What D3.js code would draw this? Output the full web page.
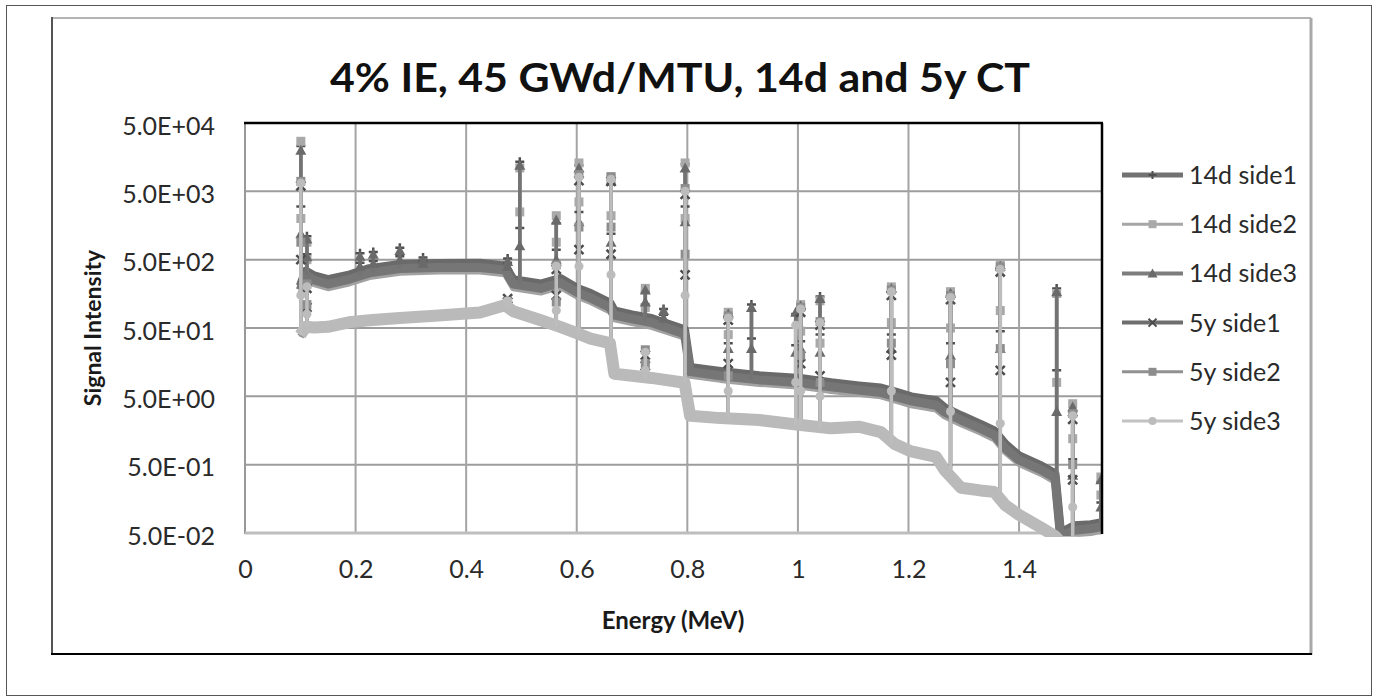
<!DOCTYPE html>
<html>
<head>
<meta charset="utf-8">
<script src="https://cdn.jsdelivr.net/npm/d3@7"></script>
<style>
  body { margin: 0; background: #fff; }
  svg { display: block; font-family: Lato, "Open Sans", "Liberation Sans", sans-serif; }
</style>
</head>
<body>
<svg id="chart" width="1377" height="698"></svg>
<script>
// ---- data ---------------------------------------------------------------
// Energy grid (MeV) shared by the continuum of every series
const energyMeV = [0.100, 0.110, 0.125, 0.150, 0.190, 0.225, 0.280, 0.350, 0.425, 0.470,
  0.485, 0.535, 0.570, 0.600, 0.625, 0.660, 0.668, 0.700, 0.735, 0.795,
  0.805, 0.860, 0.930, 1.005, 1.060, 1.110, 1.150, 1.175, 1.205, 1.250,
  1.265, 1.295, 1.330, 1.355, 1.375, 1.400, 1.440, 1.465, 1.475, 1.500,
  1.530, 1.550];

// Continuum signal intensity for each series
const d14Side1 = [205, 340, 290, 255, 300, 370, 425, 440, 445, 405, 255, 220, 265, 192, 160, 116, 89, 78, 69, 47,
  13.2, 11.6, 10.0, 9.1, 7.9, 7.1, 6.6, 5.8, 4.9, 4.3, 3.4, 2.6, 1.95, 1.56, 1.0, 0.67, 0.48, 0.37, 0.05, 0.064,
  0.066, 0.071];
const d14Side2 = [157, 260, 219, 191, 226, 278, 322, 335, 335, 307, 191, 165, 200, 145, 120, 87, 67, 59, 52, 36,
  10.0, 8.7, 7.6, 6.9, 6.0, 5.4, 5.0, 4.35, 3.7, 3.2, 2.55, 1.95, 1.48, 1.18, 0.76, 0.51, 0.365, 0.28, 0.038, 0.048,
  0.05, 0.054];
const d14Side3 = [180, 298, 252, 220, 260, 320, 370, 385, 385, 353, 220, 190, 230, 167, 138, 100, 77, 68, 60, 41,
  11.5, 10, 8.7, 7.9, 6.9, 6.2, 5.7, 5.0, 4.3, 3.7, 2.95, 2.25, 1.7, 1.36, 0.87, 0.585, 0.42, 0.32, 0.044, 0.055,
  0.058, 0.062];
const y5Side1 = [42, 55, 54, 55, 65, 69, 74, 81, 89, 114, 93, 69, 55, 44.5, 37, 32, 11.3, 10.6, 9.9, 8.4,
  2.75, 2.55, 2.4, 2.0, 1.8, 1.9, 1.6, 1.06, 0.83, 0.69, 0.45, 0.245, 0.22, 0.212, 0.136, 0.098, 0.064, 0.048, 0.039, 0.039,
  0.036, 0.036];
const y5Side2 = [37.5, 49.5, 48.5, 49.5, 58, 62, 66.5, 72, 80, 103, 84, 62, 49.5, 40, 33, 28.5, 10.2, 9.5, 8.8, 7.5,
  2.45, 2.3, 2.15, 1.8, 1.6, 1.7, 1.42, 0.95, 0.74, 0.62, 0.4, 0.22, 0.2, 0.19, 0.122, 0.087, 0.057, 0.043, 0.035, 0.035,
  0.032, 0.032];
const y5Side3 = [39.5, 52, 51, 52, 61, 65, 70, 76, 84, 108, 88, 65, 52, 42, 35, 30, 10.7, 10, 9.3, 7.9,
  2.6, 2.4, 2.25, 1.9, 1.7, 1.8, 1.5, 1.0, 0.78, 0.65, 0.42, 0.23, 0.21, 0.2, 0.128, 0.092, 0.06, 0.045, 0.037, 0.037,
  0.034, 0.034];

// Gamma lines: [energy MeV, intensity at line foot, on the rising edge, at line top]
const p14Side1 = [[0.101, 205, 3000, 23000], [0.112, 340, 600, 1100], [0.208, 330, 450, 620], [0.232, 370, 480, 650],
  [0.280, 425, 560, 750], [0.322, 440, 480, 540], [0.475, 390, 450, 520], [0.497, 255, 1450, 13500],
  [0.563, 255, 700, 1700], [0.604, 192, 2500, 12000], [0.662, 116, 1200, 6500], [0.724, 71, 110, 170],
  [0.757, 63, 78, 95], [0.796, 47, 3000, 12500], [0.874, 11.6, 30, 75], [0.916, 10.5, 35, 110],
  [0.996, 9.2, 28, 80], [1.005, 9.1, 32, 100], [1.040, 8.3, 40, 145], [1.169, 6.0, 40, 175],
  [1.276, 3.8, 30, 150], [1.366, 1.6, 45, 380], [1.468, 0.37, 12, 190], [1.497, 0.064, 0.6, 3.0],
  [1.548, 0.071, 0.14, 0.28]];
const p14Side2 = [[0.101, 157, 2000, 27000], [0.112, 260, 500, 900], [0.497, 191, 2500, 11000], [0.563, 191, 900, 2200],
  [0.604, 145, 3500, 13000], [0.662, 87, 2200, 8000], [0.724, 54, 100, 190], [0.796, 36, 2000, 13000],
  [0.874, 8.7, 40, 85], [1.005, 6.9, 45, 110], [1.040, 6.2, 30, 125], [1.169, 4.5, 60, 200],
  [1.276, 2.9, 50, 170], [1.366, 1.2, 90, 430], [1.468, 0.28, 8, 160], [1.497, 0.048, 1.2, 3.9],
  [1.548, 0.054, 0.18, 0.33]];
const p14Side3 = [[0.101, 180, 1200, 20000], [0.112, 298, 550, 1000], [0.208, 290, 400, 560], [0.232, 320, 440, 600],
  [0.280, 370, 500, 680], [0.322, 380, 440, 500], [0.475, 340, 400, 470], [0.497, 220, 800, 12000],
  [0.563, 220, 500, 1900], [0.604, 167, 1800, 11000], [0.662, 100, 900, 7000], [0.724, 62, 120, 180],
  [0.757, 55, 70, 90], [0.796, 41, 1800, 11000], [0.874, 10, 25, 80], [0.916, 9, 25, 100],
  [0.996, 8, 22, 85], [1.005, 7.9, 25, 105], [1.040, 7.2, 22, 135], [1.169, 5.2, 25, 190],
  [1.276, 3.3, 20, 160], [1.366, 1.4, 25, 400], [1.468, 0.32, 3, 170], [1.497, 0.055, 0.35, 3.5],
  [1.548, 0.062, 0.12, 0.3]];
const p5Side1 = [[0.101, 42, 500, 6000], [0.112, 55, 100, 190], [0.475, 110, 120, 135], [0.563, 55, 150, 360],
  [0.604, 44.5, 700, 7200], [0.662, 32, 600, 7000], [0.724, 9.9, 14, 20], [0.796, 8.4, 300, 4500],
  [0.874, 2.55, 15, 65], [1.005, 2.0, 15, 85], [1.040, 1.8, 10, 55], [1.169, 1.06, 20, 150],
  [1.276, 0.45, 8, 130], [1.366, 0.21, 12, 330], [1.497, 0.039, 0.3, 2.3]];
const p5Side2 = [[0.101, 37.5, 900, 7000], [0.112, 49.5, 110, 220], [0.475, 95, 105, 120], [0.563, 49.5, 120, 420],
  [0.604, 40, 1500, 8800], [0.662, 28.5, 1500, 8200], [0.724, 8.8, 15, 24], [0.796, 7.5, 600, 5500],
  [0.874, 2.3, 10, 75], [1.005, 1.8, 20, 100], [1.040, 1.6, 8, 62], [1.169, 0.95, 30, 180],
  [1.276, 0.4, 15, 150], [1.366, 0.19, 25, 390], [1.497, 0.035, 0.5, 2.8]];
const p5Side3 = [[0.101, 39.5, 150, 6600], [0.112, 52, 80, 200], [0.475, 100, 110, 125], [0.563, 52, 90, 400],
  [0.604, 42, 400, 8000], [0.662, 30, 300, 7500], [0.724, 9.3, 12, 22], [0.796, 7.9, 150, 5000],
  [0.874, 2.4, 6, 70], [0.996, 1.9, 8, 55], [1.005, 1.9, 6, 95], [1.040, 1.7, 5, 60],
  [1.169, 1.0, 6, 170], [1.276, 0.42, 3, 140], [1.366, 0.2, 2, 360], [1.497, 0.037, 0.12, 2.6]];

const seriesNames = ["14d side1", "14d side2", "14d side3", "5y side1", "5y side2", "5y side3"];

const xTicks = [0, 0.2, 0.4, 0.6, 0.8, 1, 1.2, 1.4];
const xTickLabels = ["0", "0.2", "0.4", "0.6", "0.8", "1", "1.2", "1.4"];
const yTicks = [5e4, 5e3, 5e2, 5e1, 5, 0.5, 0.05];
const yTickLabels = ["5.0E+04", "5.0E+03", "5.0E+02", "5.0E+01", "5.0E+00", "5.0E-01", "5.0E-02"];

// ---- styles -------------------------------------------------------------
const styles = [
  { line: "#6a6a6a", width: 9, spike: "#666", marker: "plus",   mfill: "#4f4f4f" },
  { line: "#a2a2a2", width: 6, spike: "#a0a0a0", marker: "square", mfill: "#a9a9a9" },
  { line: "#767676", width: 9, spike: "#737373", marker: "tri",    mfill: "#6a6a6a" },
  { line: "#6f6f6f", width: 7, spike: "#6a6a6a", marker: "x",      mfill: "#4c4c4c" },
  { line: "#8e8e8e", width: 7, spike: "#8c8c8c", marker: "square", mfill: "#8d8d8d" },
  { line: "#bababa", width: 12, spike: "#bdbdbd", marker: "circle", mfill: "#bcbcbc" }
];
const continuum = [d14Side1, d14Side2, d14Side3, y5Side1, y5Side2, y5Side3];
const lines = [p14Side1, p14Side2, p14Side3, p5Side1, p5Side2, p5Side3];

// ---- layout -------------------------------------------------------------
const svg = d3.select("#chart");
const plot = { left: 245, right: 1102, top: 123, bottom: 533 };

const x = d3.scaleLinear().domain([0, 1.55]).range([plot.left, plot.right]);
const y = d3.scaleLog().domain([0.05, 50000]).range([plot.bottom, plot.top]);

// outer frame and chart-area box
svg.append("rect").attr("x", 6.5).attr("y", 5.5).attr("width", 1365).attr("height", 690)
  .attr("fill", "none").attr("stroke", "#555").attr("stroke-width", 1);
svg.append("line").attr("x1", 52).attr("x2", 1311).attr("y1", 18).attr("y2", 18)
  .attr("stroke", "#b4b4b4").attr("stroke-width", 2);
svg.append("line").attr("x1", 1311).attr("x2", 1311).attr("y1", 18).attr("y2", 655)
  .attr("stroke", "#a8a8a8").attr("stroke-width", 3);
svg.append("line").attr("x1", 52).attr("x2", 52).attr("y1", 17).attr("y2", 655)
  .attr("stroke", "#555").attr("stroke-width", 2);
svg.append("line").attr("x1", 51).attr("x2", 1312).attr("y1", 654).attr("y2", 654)
  .attr("stroke", "#000").attr("stroke-width", 2);

// title
svg.append("text").attr("x", 330).attr("y", 92)
  .attr("textLength", 700).attr("lengthAdjust", "spacingAndGlyphs")
  .attr("font-size", 40).attr("font-weight", 700).attr("fill", "#111")
  .text("4% IE, 45 GWd/MTU, 14d and 5y CT");

// gridlines
const grid = svg.append("g");
grid.selectAll("line.h").data(yTicks).join("line")
  .attr("x1", plot.left).attr("x2", plot.right)
  .attr("y1", d => y(d)).attr("y2", d => y(d))
  .attr("stroke", "#9c9c9c").attr("stroke-width", 2);
grid.selectAll("line.v").data(xTicks).join("line")
  .attr("y1", plot.top).attr("y2", plot.bottom)
  .attr("x1", d => x(d)).attr("x2", d => x(d))
  .attr("stroke", "#a4a4a4").attr("stroke-width", 2);

// axes (labels only, lines come from the grid/frame)
const yAxis = d3.axisLeft(y).tickValues(yTicks)
  .tickFormat((d, i) => yTickLabels[i]).tickSize(0).tickPadding(30);
const yg = svg.append("g").attr("transform", `translate(${plot.left},0)`).call(yAxis);
yg.select(".domain").remove();
yg.selectAll("text").attr("font-size", 25).attr("fill", "#2a2a2a")
  .attr("font-family", "Lato, sans-serif").attr("dy", "0.45em");

const xAxis = d3.axisBottom(x).tickValues(xTicks)
  .tickFormat((d, i) => xTickLabels[i]).tickSize(0).tickPadding(27);
const xg = svg.append("g").attr("transform", `translate(0,${plot.bottom})`).call(xAxis);
xg.select(".domain").remove();
xg.selectAll("text").attr("font-size", 25).attr("fill", "#2a2a2a")
  .attr("font-family", "Lato, sans-serif");

// plot frame: grey left/bottom, black top/right
svg.append("line").attr("x1", plot.left).attr("x2", plot.left).attr("y1", plot.top).attr("y2", plot.bottom + 1)
  .attr("stroke", "#999").attr("stroke-width", 2);
svg.append("line").attr("x1", plot.left).attr("x2", plot.right).attr("y1", plot.bottom).attr("y2", plot.bottom)
  .attr("stroke", "#bdbdbd").attr("stroke-width", 3);

// axis titles
svg.append("text").attr("x", 673).attr("y", 629).attr("text-anchor", "middle")
  .attr("font-size", 24).attr("font-weight", 700).attr("fill", "#1a1a1a").text("Energy (MeV)");
svg.append("text").attr("transform", "translate(101,328) rotate(-90)").attr("text-anchor", "middle")
  .attr("font-size", 23).attr("font-weight", 700).attr("fill", "#1a1a1a").text("Signal Intensity");

// ---- series -------------------------------------------------------------
svg.append("clipPath").attr("id", "plotClip").append("rect")
  .attr("x", plot.left).attr("y", plot.top - 2)
  .attr("width", plot.right - plot.left).attr("height", plot.bottom - plot.top + 6);

const markerPath = (type, size) => {
  const h = size / 2;
  switch (type) {
    case "square": return `M${-h},${-h}h${size}v${size}h${-size}Z`;
    case "tri": return `M0,${-h - 1}L${h + 1},${h}L${-h - 1},${h}Z`;
    case "circle": return d3.symbol(d3.symbolCircle, size * size * 0.8)();
    case "plus": return `M${-h},0H${h}M0,${-h}V${h}`;
    case "x": return `M${-h},${-h}L${h},${h}M${h},${-h}L${-h},${h}`;
  }
};
const isStroke = t => t === "plus" || t === "x";

const line = d3.line().x(d => x(d[0])).y(d => y(d[1]));
const plotG = svg.append("g").attr("clip-path", "url(#plotClip)");

continuum.forEach((vals, i) => {
  const st = styles[i];
  const g = plotG.append("g");
  const pts = energyMeV.map((e, k) => [e, vals[k]]);
  g.append("path").attr("d", line(pts)).attr("fill", "none")
    .attr("stroke", st.line).attr("stroke-width", st.width).attr("stroke-linejoin", "round");
  g.selectAll("path.spike").data(lines[i]).join("path")
    .attr("d", d => line([[d[0], d[1]], [d[0], d[3]]]))
    .attr("stroke", st.spike).attr("stroke-width", 3.5).attr("fill", "none");
  // markers at the rising-edge point and the top of every line
  const marks = lines[i].flatMap(d => [[d[0], d[2]], [d[0], d[3]]]);
  g.selectAll("path.mk").data(marks).join("path")
    .attr("transform", d => `translate(${x(d[0])},${y(d[1])})`)
    .attr("d", markerPath(st.marker, 9))
    .attr("fill", isStroke(st.marker) ? "none" : st.mfill)
    .attr("stroke", isStroke(st.marker) ? st.mfill : "none")
    .attr("stroke-width", 2.5);
});

// black top/right plot border drawn over the data
svg.append("line").attr("x1", plot.left - 1).attr("x2", plot.right + 1).attr("y1", plot.top).attr("y2", plot.top)
  .attr("stroke", "#000").attr("stroke-width", 2.5);
svg.append("line").attr("x1", plot.right).attr("x2", plot.right).attr("y1", plot.top).attr("y2", plot.bottom + 1)
  .attr("stroke", "#000").attr("stroke-width", 2.5);

// ---- legend -------------------------------------------------------------
const legendLine = [
  { stroke: "#727272", w: 5 }, { stroke: "#a6a6a6", w: 3 }, { stroke: "#7d7d7d", w: 4 },
  { stroke: "#6e6e6e", w: 4 }, { stroke: "#919191", w: 3 }, { stroke: "#c2c2c2", w: 3 }
];
const leg = svg.append("g");
seriesNames.forEach((name, i) => {
  const cy = 175 + i * 49.2;
  const st = styles[i];
  leg.append("line").attr("x1", 1122).attr("x2", 1183).attr("y1", cy).attr("y2", cy)
    .attr("stroke", legendLine[i].stroke).attr("stroke-width", legendLine[i].w);
  leg.append("path").attr("transform", `translate(1152.5,${cy})`)
    .attr("d", markerPath(st.marker, 8))
    .attr("fill", isStroke(st.marker) ? "none" : st.mfill)
    .attr("stroke", isStroke(st.marker) ? st.mfill : "none")
    .attr("stroke-width", 2);
  leg.append("text").attr("x", 1189).attr("y", cy).attr("dy", "0.36em")
    .attr("font-size", 25).attr("fill", "#2a2a2a").text(name);
});
</script>
</body>
</html>
